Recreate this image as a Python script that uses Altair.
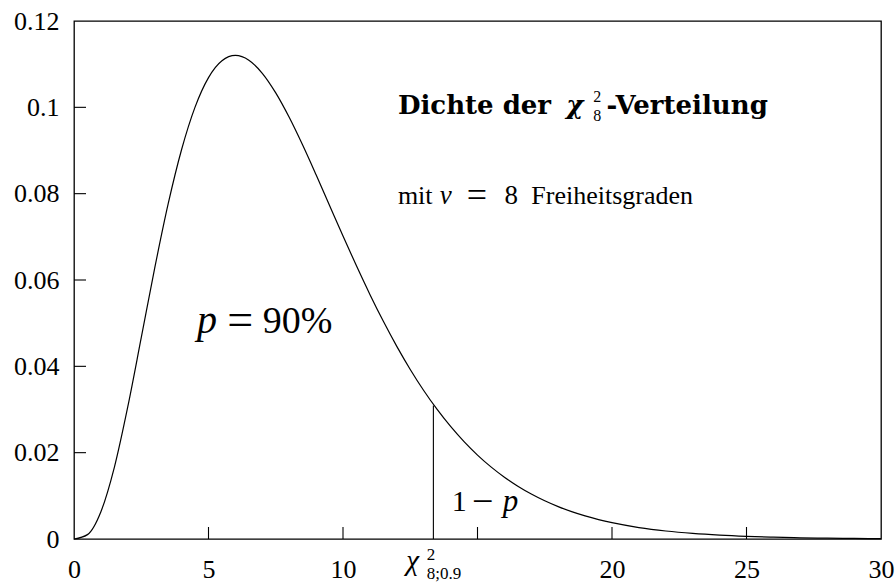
import altair as alt
import pandas as pd

# Density of the chi-square distribution with 8 degrees of freedom
x_vals = [0, 0.5, 1, 1.5, 2, 2.5, 3, 3.5, 4, 4.5, 5, 5.5, 6, 6.5, 7, 7.5, 8, 8.5,
          9, 9.5, 10, 10.5, 11, 11.5, 12, 12.5, 13, 13.5, 14, 14.5, 15, 15.5, 16,
          16.5, 17, 17.5, 18, 18.5, 19, 19.5, 20, 21, 22, 23, 24, 25, 26, 27, 28,
          29, 30]
density = [0.0, 0.001014, 0.006318, 0.016607, 0.030657, 0.046631, 0.062755,
           0.077609, 0.090224, 0.100047, 0.106882, 0.110792, 0.112021, 0.110920,
           0.107893, 0.103350, 0.097684, 0.091251, 0.084359, 0.077269, 0.070187,
           0.063278, 0.056662, 0.050423, 0.044618, 0.039276, 0.034406, 0.030009,
           0.026065, 0.022553, 0.019444, 0.016709, 0.014313, 0.012225, 0.010413,
           0.008846, 0.007497, 0.006339, 0.005348, 0.004503, 0.003783, 0.002656,
           0.001853, 0.001284, 0.000885, 0.000607, 0.000414, 0.000281, 0.000190,
           0.000128, 0.000086]

# 90% quantile and the density value there
quantile_x = [13.36]
quantile_top = [0.0309]

x_label_values = [0, 5, 10, 20, 25, 30]
x_tick_values = [5, 10, 15, 20, 25]
y_label_values = [0, 0.02, 0.04, 0.06, 0.08, 0.1, 0.12]
y_tick_values = [0.02, 0.04, 0.06, 0.08, 0.1]

W, H = 807, 518
SERIF = "Liberation Serif, Times New Roman, serif"
BOLD = "DejaVu Serif, serif"

curve_df = pd.DataFrame({"x": x_vals, "f": density})
xs = alt.Scale(domain=[0, 30], nice=False, zero=False)
ys = alt.Scale(domain=[0, 0.12], nice=False, zero=False)

x_axis = alt.Axis(values=x_label_values, format="d", ticks=False, domain=False,
                  grid=False, title=None, labelPadding=17, labelFlush=False)
y_axis = alt.Axis(values=y_label_values, format="~g", ticks=False, domain=False,
                  grid=False, title=None, labelPadding=15, labelFlush=False)

curve = alt.Chart(curve_df).mark_line(
    color="black", strokeWidth=1.2, interpolate="monotone"
).encode(
    x=alt.X("x:Q", scale=xs, axis=x_axis),
    y=alt.Y("f:Q", scale=ys, axis=y_axis),
)

quantile_rule = alt.Chart(
    pd.DataFrame({"x": quantile_x, "y0": [0], "y1": quantile_top})
).mark_rule(color="black", strokeWidth=1.1).encode(
    x=alt.X("x:Q", scale=xs), y=alt.Y("y0:Q", scale=ys), y2="y1:Q"
)

# inward tick marks on the bottom and left edges
x_ticks = alt.Chart(pd.DataFrame({"x": x_tick_values})).mark_rule(
    color="black", strokeWidth=1.1
).encode(x=alt.X("x:Q", scale=xs), y=alt.value(H), y2=alt.value(H - 12))

y_ticks = alt.Chart(pd.DataFrame({"y": y_tick_values})).mark_rule(
    color="black", strokeWidth=1.1
).encode(y=alt.Y("y:Q", scale=ys), x=alt.value(0), x2=alt.value(12))


def label(pieces, size, font=SERIF, style="normal", weight="normal"):
    df = pd.DataFrame(pieces, columns=["t", "x", "y"])
    return alt.Chart(df).mark_text(
        font=font, fontSize=size, fontStyle=style, fontWeight=weight,
        align="left", baseline="alphabetic", color="black"
    ).encode(
        x=alt.X("x:Q", scale=xs), y=alt.Y("y:Q", scale=ys), text="t:N"
    )


texts = [
    # heading
    label([("Dichte der", 12.04, 0.0985), ("-Verteilung", 19.8, 0.0985)],
          26, font=BOLD, weight="bold"),
    label([("χ", 18.3, 0.0985)], 26, font=BOLD, style="italic", weight="bold"),
    label([("2", 19.3, 0.1012), ("8", 19.3, 0.0968)], 16),
    # degrees of freedom
    label([("mit", 12.04, 0.0775), ("Freiheitsgraden", 17.0, 0.0775)], 26),
    label([("ν", 13.6, 0.0775)], 27, style="italic"),
    label([("=", 14.6, 0.0768)], 36),
    label([("8", 16.0, 0.0775)], 27),
    # probability inside
    label([("=", 5.7, 0.0472)], 46),
    label([("90%", 7.02, 0.0478)], 38),
    label([("p", 4.57, 0.0478)], 40, style="italic"),
    # upper tail
    label([("1", 14.04, 0.0064)], 30),
    label([("−", 14.8, 0.0057)], 38),
    label([("p", 15.94, 0.0064)], 31, style="italic"),
    # quantile label under the axis
    label([("χ", 12.35, -0.0071)], 29, style="italic"),
    label([("2", 13.11, -0.0049)], 17),
    label([("8;0.9", 13.11, -0.0092)], 17),
]

chart = alt.layer(curve, quantile_rule, x_ticks, y_ticks, *texts).properties(
    width=W, height=H,
    autosize=alt.AutoSizeParams(type="none"),
    padding={"left": 74, "top": 21, "right": 14, "bottom": 46},
    background="white",
).configure_view(
    stroke="black", strokeWidth=1.3
).configure_axis(
    labelFont=SERIF, labelFontSize=26, labelColor="black"
)

chart.save("out.html", embed_options={"renderer": "svg", "actions": False})
